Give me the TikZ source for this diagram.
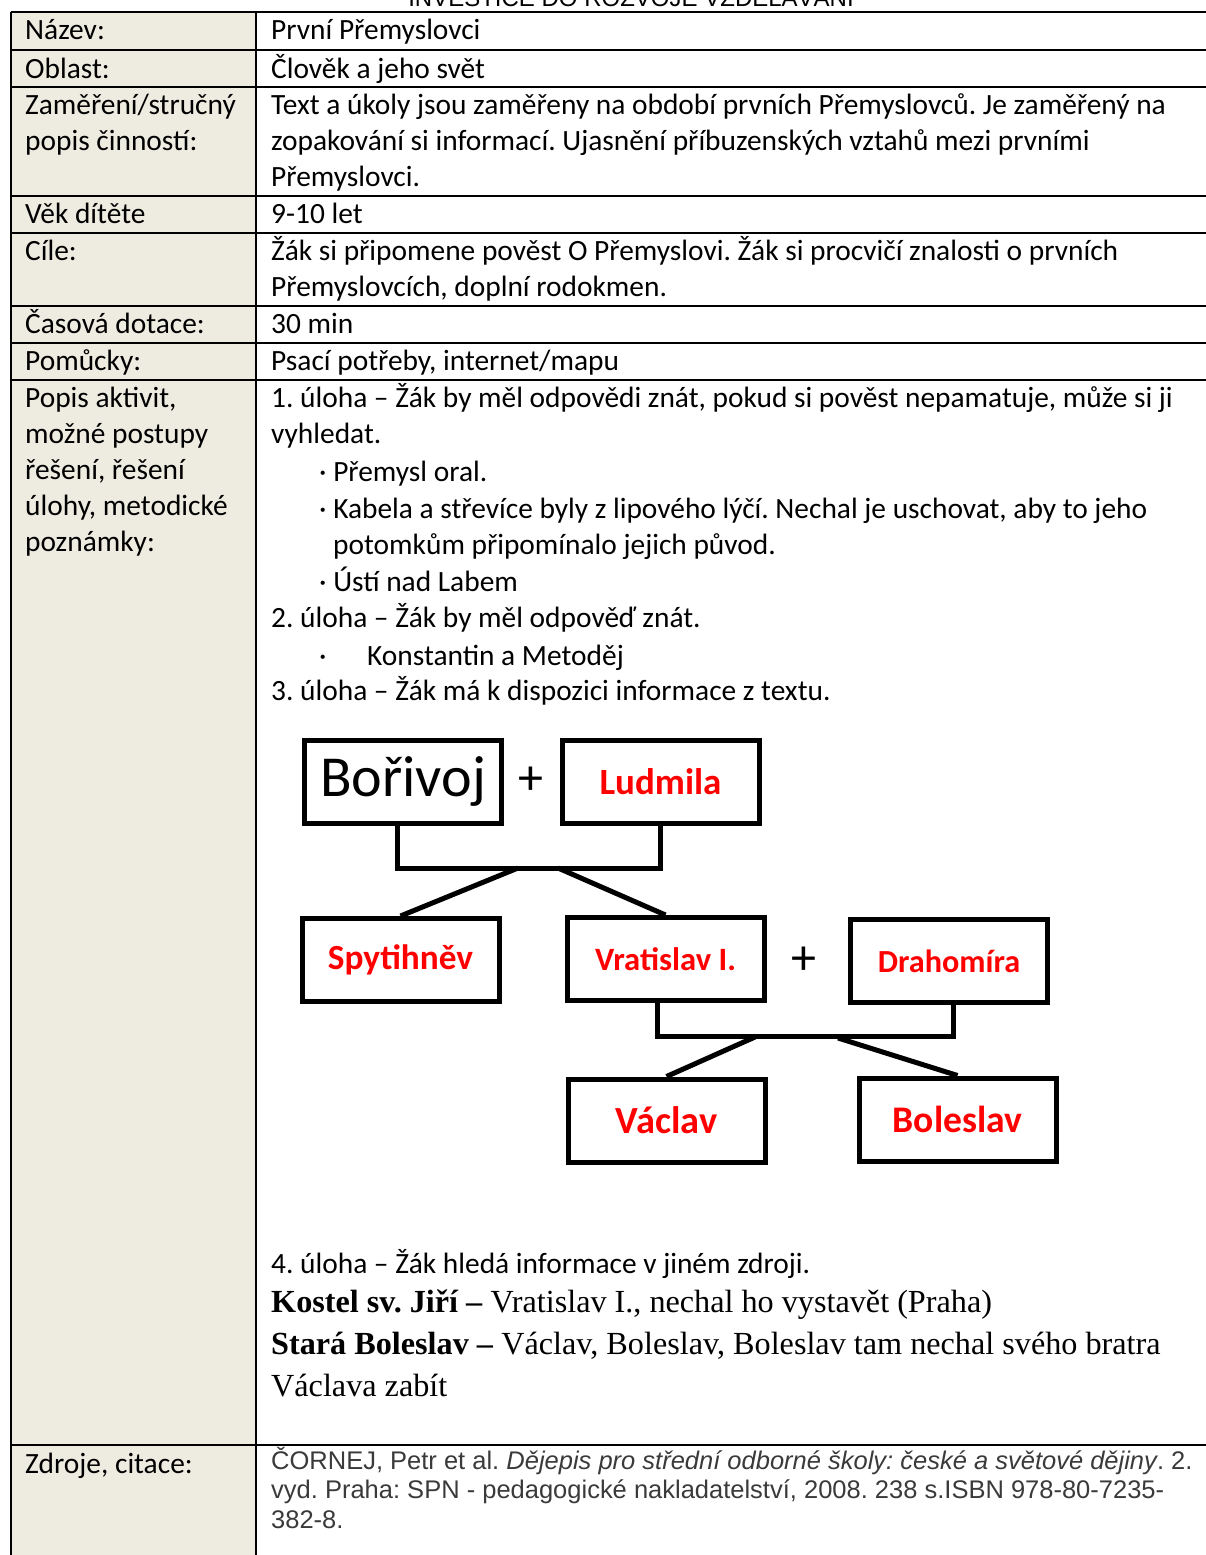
\documentclass[tikz,border=0pt]{standalone}
\usepackage{fontspec}
\setmainfont{Carlito}
\newfontfamily\arialfont{Liberation Sans}
\newfontfamily\seriffont{Liberation Serif}
\usetikzlibrary{positioning}
\definecolor{tabtan}{HTML}{EEECE1}
\definecolor{namered}{HTML}{FF0000}
\definecolor{citegray}{HTML}{3A3A3A}
\frenchspacing

\begin{document}
\begin{tikzpicture}[x=1pt, y=-1pt,
   txt/.style={anchor=base west, inner sep=0, font=\fontsize{29.4}{34}\selectfont},
   cite/.style={anchor=base west, inner sep=0, text=citegray, font=\arialfont\fontsize{25.5}{29}\selectfont},
   srctxt/.style={anchor=base west, inner sep=0, font=\seriffont\fontsize{32.2}{38}\selectfont},
   person/.style={draw, line width=5pt, minimum width=197pt, minimum height=83pt, inner sep=0,
      text=namered, font=\bfseries\fontsize{33}{33}\selectfont},
   plus/.style={inner sep=0, font=\fontsize{50}{50}\selectfont},
   link/.style={line width=5pt},
   grid/.style={line width=1.6pt}]
 \useasboundingbox (0,0) rectangle (1205,1555);

 % table
 \fill[tabtan] (11,12) rectangle (256,1560);
 \foreach \y in {12,50,87,196,233,306,343,380}
   \draw[grid] (11,\y) -- (1210,\y);
 \draw[grid] (11,1445) -- (256,1445);
 \draw[line width=2.6pt] (256,1445) -- (1210,1445);
 \draw[grid] (11,12) -- (11,1560);
 \draw[grid] (256,12) -- (256,1560);

 \node[anchor=base, inner sep=0, font=\arialfont\fontsize{24}{28}\selectfont] (hdr) at (631,7) {INVESTICE DO ROZVOJE VZDĚLÁVÁNÍ};

 % left column
 \node[txt] (l1) at (25,40) {Název:};
 \node[txt] (l2) at (25,78) {Oblast:};
 \node[txt] (l3a) at (25,114) {Zaměření/stručný};
 \node[txt] (l3b) at (25,150) {popis činností:};
 \node[txt] (l4) at (25,223) {Věk dítěte};
 \node[txt] (l5) at (25,260) {Cíle:};
 \node[txt] (l6) at (25,333) {Časová dotace:};
 \node[txt] (l7) at (25,370) {Pomůcky:};
 \node[txt] (l8a) at (25,407) {Popis aktivit,};
 \node[txt] (l8b) at (25,443) {možné postupy};
 \node[txt] (l8c) at (25,479) {řešení, řešení};
 \node[txt] (l8d) at (25,515) {úlohy, metodické};
 \node[txt] (l8e) at (25,551) {poznámky:};
 \node[txt] (l9) at (25,1473) {Zdroje, citace:};

 % right column
 \node[txt] (r1) at (271,40) {První Přemyslovci};
 \node[txt] (r2) at (271,78) {Člověk a jeho svět};
 \node[txt] (r3a) at (271,114) {Text a úkoly jsou zaměřeny na období prvních Přemyslovců. Je zaměřený na};
 \node[txt] (r3b) at (271,150) {zopakování si informací. Ujasnění příbuzenských vztahů mezi prvními};
 \node[txt] (r3c) at (271,186) {Přemyslovci.};
 \node[txt] (r4) at (271,223) {9-10 let};
 \node[txt] (r5a) at (271,260) {Žák si připomene pověst O Přemyslovi. Žák si procvičí znalosti o prvních};
 \node[txt] (r5b) at (271,296) {Přemyslovcích, doplní rodokmen.};
 \node[txt] (r6) at (271,333) {30 min};
 \node[txt] (r7) at (271,370) {Psací potřeby, internet/mapu};
 \node[txt] (u1) at (271,407) {1. úloha – Žák by měl odpovědi znát, pokud si pověst nepamatuje, může si ji};
 \node[txt] (u1b) at (271,443) {vyhledat.};
 \node[txt] (u1c) at (319,481) {· Přemysl oral.};
 \node[txt] (u1d) at (319,518) {· Kabela a střevíce byly z lipového lýčí. Nechal je uschovat, aby to jeho};
 \node[txt] (u1e) at (333,554) {potomkům připomínalo jejich původ.};
 \node[txt] (u1f) at (319,591) {· Ústí nad Labem};
 \node[txt] (u2) at (271,627) {2. úloha – Žák by měl odpověď znát.};
 \node[txt] (u2b) at (319,665) {·};
 \node[txt] (u2c) at (367,665) {Konstantin a Metoděj};
 \node[txt] (u3) at (271,700) {3. úloha – Žák má k dispozici informace z textu.};

 % family tree
 \node[person, text=black, font=\fontsize{58}{58}\selectfont] (bori) at (403,782) {Bořivoj};
 \node[plus] (plusA) at (531,781) {+};
 \node[person, font=\bfseries\fontsize{37}{37}\selectfont] (lud) at (660.5,781.5) {Ludmila};
 \node[person, font=\bfseries\fontsize{35.3}{35}\selectfont] (spyt) at (400.5,960) {Spytihněv};
 \node[person, font=\bfseries\fontsize{32.6}{33}\selectfont] (vrat) at (665.5,959) {Vratislav I.};
 \node[plus] (plusB) at (804,961) {+};
 \node[person, font=\bfseries\fontsize{32.2}{33}\selectfont] (drah) at (949,961) {Drahomíra};
 \node[person, font=\bfseries\fontsize{38.4}{38}\selectfont] (vacl) at (666.5,1120.5) {Václav};
 \node[person, font=\bfseries\fontsize{37.6}{38}\selectfont] (bole) at (957.5,1119.5) {Boleslav};

 \coordinate (famA) at (530,868);
 \coordinate (famAl) at (518,868);
 \coordinate (famAr) at (558,868);
 \draw[link] ([xshift=-6pt]bori.south) |- (famA) -| (lud.south);
 \draw[link] (famAl) -- (spyt.north);
 \draw[link] (famAr) -- (vrat.north);

 \coordinate (famB) at (800,1036);
 \coordinate (famBl) at (755,1037);
 \coordinate (famBr) at (838,1038);
 \draw[link] ([xshift=-8pt]vrat.south) |- (famB) -| ([xshift=4pt]drah.south);
 \draw[link] (famBl) -- (vacl.north);
 \draw[link] (famBr) -- (bole.north);

 \node[txt] (u4) at (271,1273) {4. úloha – Žák hledá informace v jiném zdroji.};
 \node[srctxt] (s1) at (271,1312) {\textbf{Kostel sv. Jiří –} Vratislav I., nechal ho vystavět (Praha)};
 \node[srctxt] (s2) at (271,1354) {\textbf{Stará Boleslav –} Václav, Boleslav, Boleslav tam nechal svého bratra};
 \node[srctxt] (s3) at (271,1396) {Václava zabít};

 \node[cite] (c1) at (271,1469) {ČORNEJ, Petr et al. \textit{Dějepis pro střední odborné školy: české a světové dějiny}. 2.};
 \node[cite] (c2) at (271,1498) {vyd. Praha: SPN - pedagogické nakladatelství, 2008. 238 s.ISBN 978-80-7235-};
 \node[cite] (c3) at (271,1528) {382-8.};
\end{tikzpicture}
\end{document}
